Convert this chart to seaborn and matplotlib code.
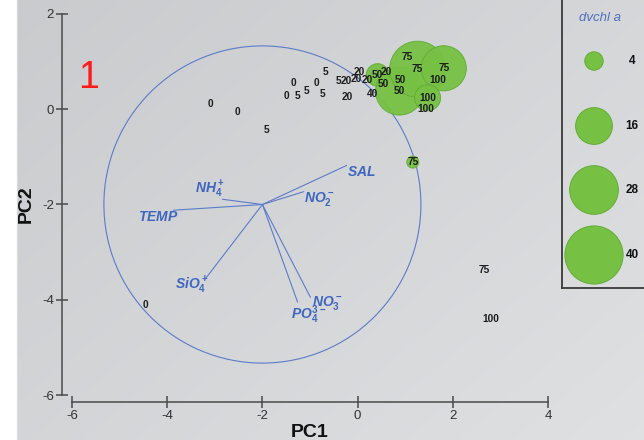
import numpy as np
import pandas as pd
import matplotlib
matplotlib.use("Agg")
import matplotlib.pyplot as plt
from matplotlib.patches import Circle
import seaborn as sns

# ---- sample scores (PC1, PC2), sampling depth label and dvchl a ----
pc1 = [-3.09, -2.52, -1.91, -4.45, -0.67, -1.34, -0.86, -1.49, -1.26, -1.07,
       -0.74, -0.40, -0.23, -0.02, 0.04, 0.21, -0.21, 0.32, 0.42, 0.61,
       0.55, 0.90, 0.88, 1.05, 1.26, 1.81, 1.68, 1.47, 1.43, 1.16,
       2.67, 2.79]
pc2 = [0.11, -0.06, -0.44, -4.12, 0.78, 0.55, 0.55, 0.27, 0.27, 0.38,
       0.32, 0.59, 0.59, 0.63, 0.78, 0.61, 0.25, 0.32, 0.72, 0.78,
       0.54, 0.61, 0.38, 1.09, 0.84, 0.86, 0.61, 0.24, 0.00, -1.11,
       -3.38, -4.41]
depth = [0, 0, 5, 0, 5, 0, 0, 0, 5, 5,
         5, 5, 20, 20, 20, 20, 20, 40, 50, 20,
         50, 50, 50, 75, 75, 75, 100, 100, 100, 75,
         75, 100]
dvchl = [0, 0, 0, 0, 0, 0, 0, 0, 0, 0,
         0, 0, 0, 0, 0, 0, 0, 0, 6, 0,
         0, 0, 27, 0, 37, 24, 0, 8, 0, 1.7,
         0, 0]

# ---- environmental loadings (arrow tips) ----
env_labels = [r"$SAL$", r"$NO_2^-$", r"$NH_4^+$", r"$TEMP$",
              r"$SiO_4^+$", r"$PO_4^{3-}$", r"$NO_3^-$"]
load_x = [-0.23, -1.13, -2.84, -3.87, -3.19, -1.26, -0.99]
load_y = [-1.18, -1.73, -1.89, -2.12, -3.55, -4.05, -3.95]
arrow_origin = (-2.0, -2.0)
circle_radius = 3.33

legend_values = [4, 16, 28, 40]
x_ticks = [-6, -4, -2, 0, 2, 4]
y_ticks = [-6, -4, -2, 0, 2]

df = pd.DataFrame({"PC1": pc1, "PC2": pc2, "depth": depth, "dvchl": dvchl})

sns.set_theme(style="white")
plt.rcParams["font.family"] = ["Liberation Sans", "DejaVu Sans"]
plt.rcParams["axes.unicode_minus"] = False
plt.rcParams["mathtext.fontset"] = "custom"
plt.rcParams["mathtext.it"] = "Liberation Sans:italic:bold"
plt.rcParams["mathtext.rm"] = "Liberation Sans:bold"
plt.rcParams["mathtext.bf"] = "Liberation Sans:bold"
plt.rcParams["mathtext.default"] = "it"

W, H = 644, 440
fig = plt.figure(figsize=(W / 100, H / 100), dpi=100)

# soft grey background with a slight diagonal gradient
bg = fig.add_axes([0, 0, 1, 1], zorder=-10)
yy, xx = np.mgrid[0:1:200j, 0:1:300j]
t = 0.55 * xx + 0.45 * yy
c0 = np.array([0.790, 0.795, 0.805])
c1 = np.array([0.875, 0.880, 0.888])
img = c0[None, None, :] * (1 - t[..., None]) + c1[None, None, :] * t[..., None]
img[:, :int(300 * 19 / W), :] = 1.0
bg.imshow(img, aspect="auto", extent=[0, 1, 0, 1], origin="upper")
bg.axis("off")

ax = fig.add_axes([72 / W, (H - 395) / H, 476 / W, 381 / H])
ax.set_facecolor("none")

green = "#76c144"

# correlation circle and loading arrows
ax.add_patch(Circle(arrow_origin, circle_radius, fill=False, ec="#5b7cc9", lw=0.8, zorder=1))
label_offsets = [(11, -5), (11, -5), (-9, 7), (-11, -5), (-10, -5), (8, -9), (12, -4)]
for lab, lx, ly, off in zip(env_labels, load_x, load_y, label_offsets):
    ax.plot([arrow_origin[0], lx], [arrow_origin[1], ly], color="#5b7cc9", lw=0.8, zorder=1)
    ax.annotate(lab, xy=(lx, ly), xytext=off, textcoords="offset points",
                ha="center", va="center", color="#3f66bf", fontsize=10, zorder=2)

# bubbles sized by dvchl a (area proportional to value)
smax = 43.9 * 40
sns.scatterplot(data=df, x="PC1", y="PC2", size="dvchl", sizes=(0, smax),
                size_norm=(0, 40), color=green, edgecolor="#62ad36", linewidth=0.7,
                alpha=0.95, legend=False, ax=ax, zorder=3)

# depth labels
for x, y, d in zip(df["PC1"], df["PC2"], df["depth"]):
    ax.text(x, y, str(d), ha="center", va="center", fontsize=7.3, fontweight="bold",
            color="#1e1e1e", zorder=4)

ax.set_xlim(-6, 4)
ax.set_ylim(-6, 2)
ax.set_xticks(x_ticks)
ax.set_yticks(y_ticks)
ax.set_xticklabels([str(v) for v in x_ticks])
ax.set_yticklabels([str(v) for v in y_ticks])
ax.tick_params(bottom=True, left=True, direction="inout", length=8, width=1.1,
               color="#4a4a4a", labelsize=9.5, labelcolor="#333333", pad=2)
for sp in ("left", "bottom"):
    ax.spines[sp].set_color("#4a4a4a")
    ax.spines[sp].set_linewidth(1.1)
sns.despine(ax=ax, offset={"left": 7, "bottom": 5}, trim=True)
ax.set_xlabel("PC1", fontsize=14, fontweight="bold", color="#111111", labelpad=1)
ax.set_ylabel("PC2", fontsize=14, fontweight="bold", color="#111111", labelpad=5)

fig.text(89 / W, 1 - 78 / H, "1", color="#ff1a1a", fontsize=27, ha="center", va="center")

# bubble-size key
lg = fig.add_axes([562 / W, (H - 288) / H, 110 / W, 310 / H])
lg.set_facecolor("none")
lg.set_xlim(562, 672)
lg.set_ylim(288, -22)
key = pd.DataFrame({"x": [594] * 4, "y": [61, 126, 190, 255], "v": legend_values})
sns.scatterplot(data=key, x="x", y="y", size="v", sizes=(0, smax), size_norm=(0, 40),
                color=green, edgecolor="#62ad36", linewidth=0.7, legend=False, ax=lg)
for yv, v in zip(key["y"], key["v"]):
    lg.text(632, yv, str(v), ha="center", va="center", fontsize=8.5,
            fontweight="bold", color="#111111")
lg.text(600, 18, "dvchl a", ha="center", va="center", fontsize=9.5,
        style="italic", color="#4d6fc2")
lg.set_xticks([])
lg.set_yticks([])
lg.set_xlabel("")
lg.set_ylabel("")
for sp in ("top", "right"):
    lg.spines[sp].set_visible(False)
for sp in ("left", "bottom"):
    lg.spines[sp].set_color("#3a3a3a")
    lg.spines[sp].set_linewidth(1.3)

fig.savefig("out.png", dpi=100)
